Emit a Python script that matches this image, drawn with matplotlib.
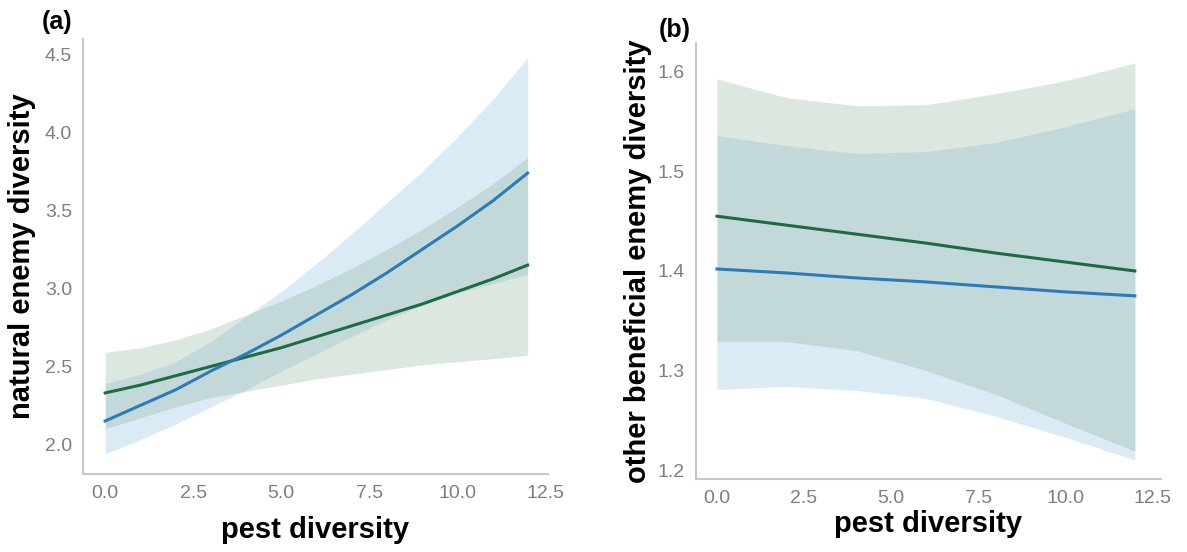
import numpy as np
import matplotlib.pyplot as plt

plt.rcParams['font.family'] = ['Liberation Sans', 'DejaVu Sans']

# Panel (a): natural enemy diversity vs pest diversity
xa = [0, 1, 2, 3, 4, 5, 6, 7, 8, 9, 10, 11, 12]
a_blue = [2.15, 2.25, 2.35, 2.47, 2.58, 2.70, 2.83, 2.96, 3.10, 3.25, 3.40, 3.56, 3.74]
a_blue_hi = [2.39, 2.45, 2.53, 2.66, 2.82, 2.98, 3.16, 3.35, 3.55, 3.75, 3.97, 4.21, 4.48]
a_blue_lo = [1.94, 2.03, 2.13, 2.24, 2.35, 2.47, 2.58, 2.69, 2.80, 2.89, 2.97, 3.03, 3.09]
a_green = [2.33, 2.38, 2.44, 2.50, 2.56, 2.62, 2.69, 2.76, 2.83, 2.90, 2.98, 3.06, 3.15]
a_green_hi = [2.59, 2.62, 2.67, 2.74, 2.83, 2.92, 3.02, 3.13, 3.25, 3.38, 3.52, 3.67, 3.84]
a_green_lo = [2.10, 2.17, 2.24, 2.30, 2.34, 2.38, 2.42, 2.45, 2.48, 2.51, 2.53, 2.55, 2.57]

# Panel (b): other beneficial enemy diversity vs pest diversity
xb = [0, 2, 4, 6, 8, 10, 12]
b_blue = [1.402, 1.398, 1.393, 1.389, 1.384, 1.379, 1.375]
b_blue_hi = [1.536, 1.526, 1.518, 1.520, 1.529, 1.545, 1.563]
b_blue_lo = [1.281, 1.284, 1.280, 1.272, 1.254, 1.233, 1.210]
b_green = [1.455, 1.446, 1.437, 1.428, 1.418, 1.409, 1.400]
b_green_hi = [1.593, 1.574, 1.566, 1.567, 1.578, 1.591, 1.609]
b_green_lo = [1.329, 1.329, 1.320, 1.300, 1.276, 1.247, 1.219]

xticks = [0.0, 2.5, 5.0, 7.5, 10.0, 12.5]

blue, green = '#2b7bba', '#1f6a44'
band_blue, band_green = '#8ac0e4', '#8eb298'
spine_col = '#c8c8c8'
tick_col = '#7f7f7f'

fig = plt.figure(figsize=(11.87, 5.52), dpi=100)
ax1 = fig.add_axes([0.0699, 0.1413, 0.3918, 0.7880])
ax2 = fig.add_axes([0.5864, 0.1322, 0.3917, 0.7899])


def draw(ax, x, bl, bl_hi, bl_lo, gr, gr_hi, gr_lo):
    ax.fill_between(x, bl_lo, bl_hi, color=band_blue, alpha=0.3, lw=0)
    ax.fill_between(x, gr_lo, gr_hi, color=band_green, alpha=0.3, lw=0)
    ax.plot(x, gr, color=green, lw=2.2)
    ax.plot(x, bl, color=blue, lw=2.2)
    for s in ['top', 'right']:
        ax.spines[s].set_visible(False)
    for s in ['left', 'bottom']:
        ax.spines[s].set_color(spine_col)
        ax.spines[s].set_linewidth(1.5)
    ax.tick_params(length=0, labelsize=14, colors=tick_col, pad=8)
    ax.set_xticks(xticks)
    ax.set_xticklabels(['%.1f' % t for t in xticks])


draw(ax1, xa, a_blue, a_blue_hi, a_blue_lo, a_green, a_green_hi, a_green_lo)
ax1.set_xlim(-0.63, 12.58)
ax1.set_ylim(1.81, 4.60)
ax1.set_yticks([2.0, 2.5, 3.0, 3.5, 4.0, 4.5])
ax1.set_xlabel('pest diversity', fontsize=21, fontweight='bold', labelpad=10)
ax1.set_ylabel('natural enemy diversity', fontsize=21, fontweight='bold', labelpad=6)

draw(ax2, xb, b_blue, b_blue_hi, b_blue_lo, b_green, b_green_hi, b_green_lo)
ax2.set_xlim(-0.6, 12.75)
ax2.set_ylim(1.191, 1.629)
ax2.set_yticks([1.2, 1.3, 1.4, 1.5, 1.6])
ax2.set_xlabel('pest diversity', fontsize=21, fontweight='bold', labelpad=2)
ax2.set_ylabel('other beneficial enemy diversity', fontsize=21, fontweight='bold', labelpad=4)

fig.text(57 / 1187, 1 - 22 / 552, '(a)', fontsize=18, fontweight='bold', ha='center', va='center')
fig.text(675 / 1187, 1 - 30 / 552, '(b)', fontsize=18, fontweight='bold', ha='center', va='center')

fig.savefig('out.png', dpi=100)
